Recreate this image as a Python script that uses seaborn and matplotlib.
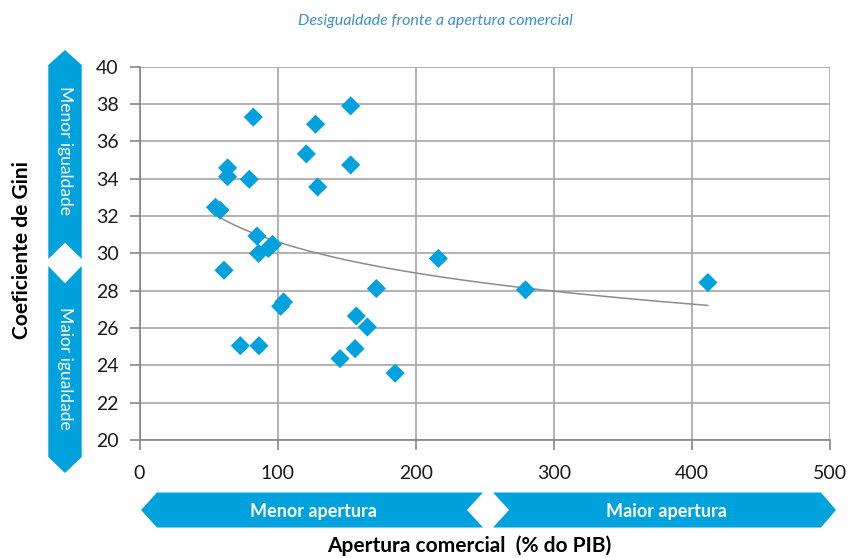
import matplotlib

matplotlib.use("Agg")
import matplotlib.pyplot as plt
import numpy as np
import pandas as pd
import seaborn as sns
from matplotlib.patches import Polygon

# values
apertura = [82.4, 127.5, 152.9, 120.8, 152.9, 63.8, 63.8, 79.5, 129.0, 55.0,
            58.3, 85.1, 86.2, 93.3, 96.4, 61.2, 102.2, 104.3, 171.5, 157.0,
            165.0, 73.0, 86.5, 145.2, 156.1, 185.1, 216.4, 279.5, 411.6]
gini = [37.29, 36.91, 37.89, 35.32, 34.73, 34.57, 34.10, 33.96, 33.55, 32.46,
        32.31, 30.92, 29.99, 30.26, 30.47, 29.09, 27.16, 27.39, 28.11, 26.64,
        26.05, 25.05, 25.05, 24.36, 24.89, 23.58, 29.72, 28.04, 28.43]
x_ticks = [0, 100, 200, 300, 400, 500]
y_ticks = list(range(20, 41, 2))

BLUE = "#00A2DE"
W, H = 851, 558

df = pd.DataFrame({"apertura": apertura, "gini": gini})

sns.set_theme(style="white")
plt.rcParams["font.family"] = ["Lato", "DejaVu Sans"]

fig = plt.figure(figsize=(W / 100, H / 100), dpi=100)
ax = fig.add_axes([139.5 / W, 1 - 440 / H, 690.5 / W, 373.5 / H])

sns.scatterplot(data=df, x="apertura", y="gini", marker="D", s=95,
                color=BLUE, edgecolor="none", ax=ax, zorder=3)

# logarithmic trend line, as in the original spreadsheet chart
b, a = np.polyfit(np.log(df["apertura"]), df["gini"], 1)
xs = np.linspace(df["apertura"].min(), df["apertura"].max(), 200)
ax.plot(xs, a + b * np.log(xs), color="#8c8c8c", lw=1.1, zorder=2)

ax.set_xlim(0, 500)
ax.set_ylim(20, 40)
ax.set_xticks(x_ticks)
ax.set_yticks(y_ticks)
ax.grid(True, color="#a6a6a6", lw=1.2)
ax.set_axisbelow(True)
for side in ["top", "right"]:
    ax.spines[side].set_visible(False)
for side in ["left", "bottom"]:
    ax.spines[side].set_color("#868686")
    ax.spines[side].set_linewidth(1.2)
ax.tick_params(axis="both", which="both", length=7, width=1.2, color="#868686",
               direction="out", labelsize=14, labelcolor="#1a1a1a",
               left=True, bottom=True)
ax.tick_params(axis="y", pad=8)
ax.tick_params(axis="x", pad=11)
ax.set_xlabel("")
ax.set_ylabel("")


def px(points):
    return [(x / W, 1 - y / H) for x, y in points]


def shape(points):
    fig.patches.append(Polygon(px(points), closed=True, transform=fig.transFigure,
                               facecolor=BLUE, edgecolor="none"))


# vertical arrows (equality)
shape([(48.3, 65), (65, 50), (81.7, 65), (81.7, 259), (65, 242.7), (48.3, 259)])
shape([(48.3, 266), (65, 283.3), (81.7, 266), (81.7, 457), (65, 473), (48.3, 457)])
fig.text(65 / W, 1 - 150 / H, "Menor igualdade", rotation=-90, color="white",
         fontsize=12.5, ha="center", va="center")
fig.text(65 / W, 1 - 368 / H, "Maior igualdade", rotation=-90, color="white",
         fontsize=12.5, ha="center", va="center")

# horizontal arrows (openness)
shape([(141, 510), (157, 492.5), (483, 492.5), (467, 510), (483, 527.5), (157, 527.5)])
shape([(493, 492.5), (821, 492.5), (836, 510), (821, 527.5), (493, 527.5), (509, 510)])
fig.text(313 / W, 1 - 511 / H, "Menor apertura", color="white", fontsize=13,
         fontweight="bold", ha="center", va="center")
fig.text(666 / W, 1 - 511 / H, "Maior apertura", color="white", fontsize=13,
         fontweight="bold", ha="center", va="center")

fig.text(469 / W, 1 - 546 / H, "Apertura comercial  (% do PIB)", color="black",
         fontsize=15, fontweight="bold", ha="center", va="center")
fig.text(22 / W, 1 - 250 / H, "Coeficiente de Gini", color="black", rotation=90,
         fontsize=15, fontweight="bold", ha="center", va="center")
fig.text(435 / W, 1 - 21 / H, "Desigualdade fronte a apertura comercial",
         color="#3C8FD2", fontsize=11.5, style="italic",
         ha="center", va="center")

fig.savefig("out.png", dpi=100)
